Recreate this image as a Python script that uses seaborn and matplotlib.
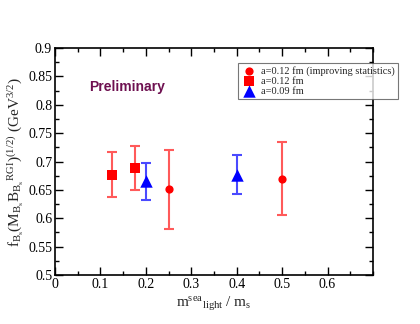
import matplotlib
matplotlib.use("Agg")
import matplotlib.pyplot as plt
import seaborn as sns
import pandas as pd
from matplotlib.ticker import MultipleLocator

# data
series = ["a=0.12 fm (improving statistics)", "a=0.12 fm", "a=0.09 fm"]
x_circ = [0.25, 0.5]
y_circ = [0.651, 0.670]
lo_circ = [0.582, 0.605]
hi_circ = [0.720, 0.735]

x_sq = [0.125, 0.175]
y_sq = [0.677, 0.688]
lo_sq = [0.638, 0.649]
hi_sq = [0.716, 0.727]

x_tri = [0.2, 0.4]
y_tri = [0.666, 0.677]
lo_tri = [0.632, 0.643]
hi_tri = [0.698, 0.711]

sns.set_style("ticks")
plt.rcParams['font.family'] = ['Liberation Serif', 'DejaVu Serif']
plt.rcParams['mathtext.fontset'] = 'custom'
plt.rcParams['mathtext.rm'] = 'Liberation Serif'
plt.rcParams['mathtext.it'] = 'Liberation Serif'

df = pd.DataFrame({
    "x": x_circ + x_sq + x_tri,
    "y": y_circ + y_sq + y_tri,
    "lo": lo_circ + lo_sq + lo_tri,
    "hi": hi_circ + hi_sq + hi_tri,
    "set": [series[0]] * 2 + [series[1]] * 2 + [series[2]] * 2,
})

colors = {series[0]: "#ff0000", series[1]: "#ff0000", series[2]: "#0000ff"}
barcolors = {series[0]: "#ff5a5a", series[1]: "#ff5a5a", series[2]: "#4a4aff"}
markers = {series[0]: "o", series[1]: "s", series[2]: "^"}
sizes = {series[0]: 35, series[1]: 55, series[2]: 80}

fig = plt.figure(figsize=(4.2, 3.24), dpi=100)
ax = fig.add_axes([0.131, 0.151, 0.757, 0.701])

for s in series:
    d = df[df["set"] == s]
    ax.errorbar(d["x"], d["y"], yerr=[d["y"] - d["lo"], d["hi"] - d["y"]],
                fmt="none", ecolor=barcolors[s], elinewidth=1.5, capsize=3.5,
                capthick=1.5, zorder=2)

for s in series:
    d = df[df["set"] == s]
    sns.scatterplot(data=d, x="x", y="y", marker=markers[s], color=colors[s],
                    s=sizes[s], edgecolor=colors[s], linewidth=0, ax=ax,
                    label=s, zorder=3, legend=True)

ax.set_xlim(0, 0.7)
ax.set_ylim(0.5, 0.9)
ax.xaxis.set_minor_locator(MultipleLocator(0.05))
ax.yaxis.set_minor_locator(MultipleLocator(0.025))
ax.set_xticks([0, 0.1, 0.2, 0.3, 0.4, 0.5, 0.6])
ax.set_xticklabels(["0", "0.1", "0.2", "0.3", "0.4", "0.5", "0.6"])
ax.set_yticks([0.5, 0.55, 0.6, 0.65, 0.7, 0.75, 0.8, 0.85, 0.9])
ax.set_yticklabels(["0.5", "0.55", "0.6", "0.65", "0.7", "0.75", "0.8", "0.85", "0.9"])
ax.tick_params(which="both", direction="in", top=True, right=True,
               labelsize=10, colors="black", width=1)
ax.tick_params(which="major", length=6, pad=2)
ax.tick_params(which="minor", length=3)
for sp in ax.spines.values():
    sp.set_linewidth(1.2)
    sp.set_color("black")

ax.set_xlabel(r"$\mathregular{m^{sea}{}_{light}}$ / $\mathregular{m_s}$", fontsize=11, labelpad=3)
ax.set_ylabel(r"$\mathregular{f_{B_s}(M_{B_s}B_{B_s}{}^{RGI})^{(1/2)}\ (GeV^{3/2})}$",
              fontsize=11, labelpad=2)

ax.text(0.075, 0.831, "Preliminary", family="Liberation Sans", fontweight="bold",
        fontsize=10, color="#6e1050", va="center", ha="left")

handles, labels = ax.get_legend_handles_labels()
leg = fig.legend(handles, labels, loc="upper left", bbox_to_anchor=(0.567, 0.805),
                 fontsize=7.5, frameon=True, fancybox=False, borderpad=0.3,
                 labelspacing=0.05, handletextpad=0.4, handlelength=1.5,
                 borderaxespad=0)
leg.get_frame().set_edgecolor("#555555")
leg.get_frame().set_linewidth(0.8)
if ax.get_legend():
    ax.get_legend().remove()

fig.savefig("out.png", dpi=100)
